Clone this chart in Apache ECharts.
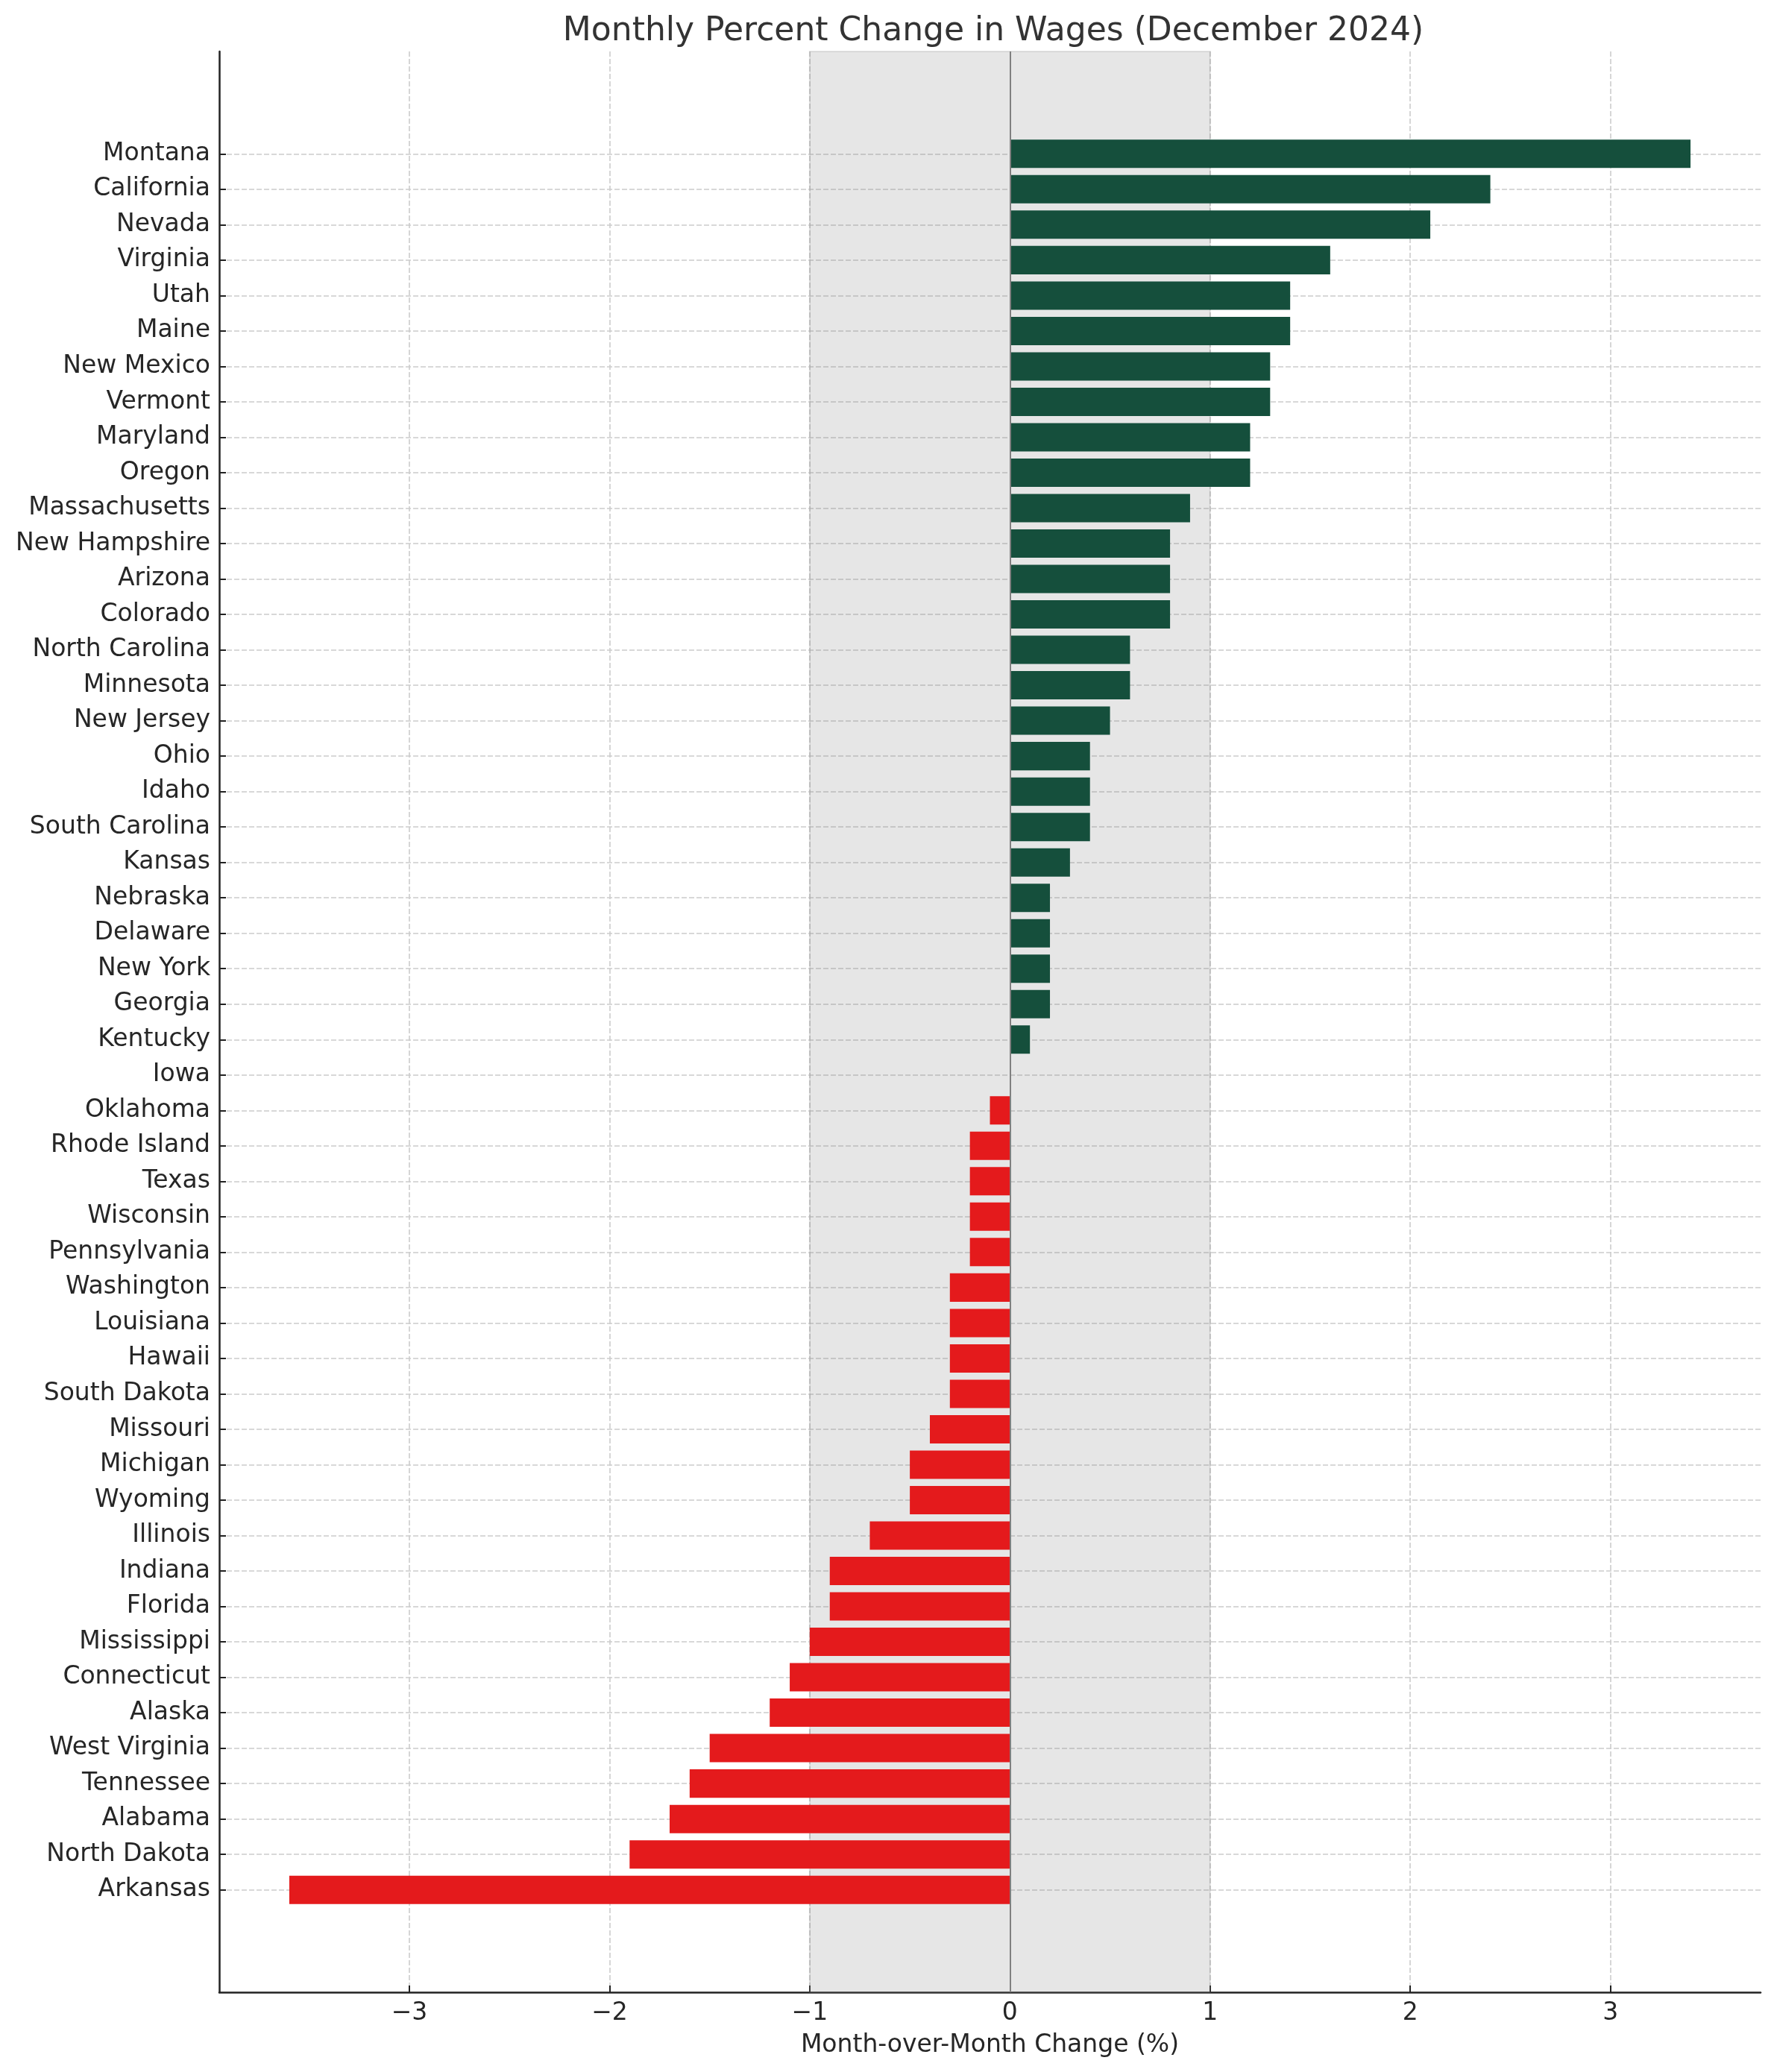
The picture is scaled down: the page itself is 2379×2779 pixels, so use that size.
<!DOCTYPE html>
<html>
<head>
<meta charset="utf-8">
<script src="https://cdn.jsdelivr.net/npm/echarts@6/dist/echarts.min.js"></script>
<style>
  html, body { margin: 0; padding: 0; background: #ffffff; }
  #chart { width: 2379px; height: 2779px; }
</style>
</head>
<body>
<div id="chart"></div>
<script>
const states = [
  'Montana','California','Nevada','Virginia','Utah','Maine','New Mexico','Vermont','Maryland','Oregon',
  'Massachusetts','New Hampshire','Arizona','Colorado','North Carolina','Minnesota','New Jersey','Ohio','Idaho','South Carolina',
  'Kansas','Nebraska','Delaware','New York','Georgia','Kentucky','Iowa','Oklahoma','Rhode Island','Texas',
  'Wisconsin','Pennsylvania','Washington','Louisiana','Hawaii','South Dakota','Missouri','Michigan','Wyoming','Illinois',
  'Indiana','Florida','Mississippi','Connecticut','Alaska','West Virginia','Tennessee','Alabama','North Dakota','Arkansas'
];
const changes = [
  3.4, 2.4, 2.1, 1.6, 1.4, 1.4, 1.3, 1.3, 1.2, 1.2,
  0.9, 0.8, 0.8, 0.8, 0.6, 0.6, 0.5, 0.4, 0.4, 0.4,
  0.3, 0.2, 0.2, 0.2, 0.2, 0.1, 0.0, -0.1, -0.2, -0.2,
  -0.2, -0.2, -0.3, -0.3, -0.3, -0.3, -0.4, -0.5, -0.5, -0.7,
  -0.9, -0.9, -1.0, -1.1, -1.2, -1.5, -1.6, -1.7, -1.9, -3.6
];
const xTicks = [-3, -2, -1, 0, 1, 2, 3];
const highlightBand = [-1, 1];

const titleText = 'Monthly Percent Change in Wages (December 2024)';
const xAxisTitle = 'Month-over-Month Change (%)';

const POS = '#154f3c';
const NEG = '#e41a1c';
const FONT = 'DejaVu Sans';
const TXT = '#262626';

// matplotlib-like 5% margins
const xmin = -3.95, xmax = 3.75;
const ymin = -2.89, ymax = (states.length - 1) + 2.89;
const yIdx = states.map((s, i) => i);

const chart = echarts.init(document.getElementById('chart'), null, { renderer: 'canvas' });

const option = {
  backgroundColor: '#ffffff',
  animation: false,
  title: {
    text: titleText,
    left: 1327, textAlign: 'center',
    top: 16,
    textStyle: { fontFamily: FONT, fontSize: 44, fontWeight: 'normal', color: '#333333' }
  },
  grid: { left: 294, right: 18, top: 69, bottom: 107, containLabel: false },
  xAxis: {
    type: 'value', min: xmin, max: xmax,
    axisLine: { show: true, onZero: false, lineStyle: { color: '#222222', width: 2.5 } },
    axisTick: { show: true, inside: true, length: 9, lineStyle: { color: '#222222', width: 2 }, customValues: xTicks },
    axisLabel: {
      customValues: xTicks,
      fontFamily: FONT, fontSize: 33, color: TXT, margin: 12,
      formatter: v => (v < 0 ? '\u2212' + Math.abs(v) : String(v))
    },
    splitLine: { show: true, lineStyle: { color: '#cccccc', width: 1.6, type: [7, 3] } },
    name: xAxisTitle, nameLocation: 'middle', nameGap: 55,
    nameTextStyle: { fontFamily: FONT, fontSize: 33, color: TXT }
  },
  yAxis: {
    type: 'value', min: ymin, max: ymax, inverse: true,
    axisLine: { show: true, onZero: false, lineStyle: { color: '#222222', width: 2.5 } },
    axisTick: { show: true, inside: true, length: 9, lineStyle: { color: '#222222', width: 2 }, customValues: yIdx },
    axisLabel: {
      customValues: yIdx,
      fontFamily: FONT, fontSize: 33, color: TXT, margin: 12,
      formatter: v => states[Math.round(v)] || ''
    },
    splitLine: { show: true, lineStyle: { color: '#cccccc', width: 1.6, type: [7, 3] } }
  },
  series: [{
    type: 'custom',
    coordinateSystem: 'cartesian2d',
    encode: { x: 0, y: 1 },
    data: changes.map((v, i) => [v, i]),
    renderItem: function (params, api) {
      const v = api.value(0), i = api.value(1);
      const p0 = api.coord([0, i]);
      const p1 = api.coord([v, i]);
      const h = Math.abs(api.size([0, 0.8])[1]);
      return {
        type: 'rect',
        shape: { x: Math.min(p0[0], p1[0]), y: p0[1] - h / 2, width: Math.abs(p1[0] - p0[0]), height: h },
        style: { fill: v >= 0 ? POS : NEG }
      };
    },
    markArea: {
      silent: true,
      itemStyle: { color: 'rgba(128,128,128,0.2)', borderColor: 'rgba(128,128,128,0.2)', borderWidth: 2 },
      data: [[{ xAxis: highlightBand[0] }, { xAxis: highlightBand[1] }]]
    },
    markLine: {
      silent: true, symbol: 'none',
      label: { show: false },
      lineStyle: { color: '#808080', width: 2, type: 'solid' },
      data: [{ xAxis: 0 }]
    }
  }]
};
chart.setOption(option);
</script>
</body>
</html>
